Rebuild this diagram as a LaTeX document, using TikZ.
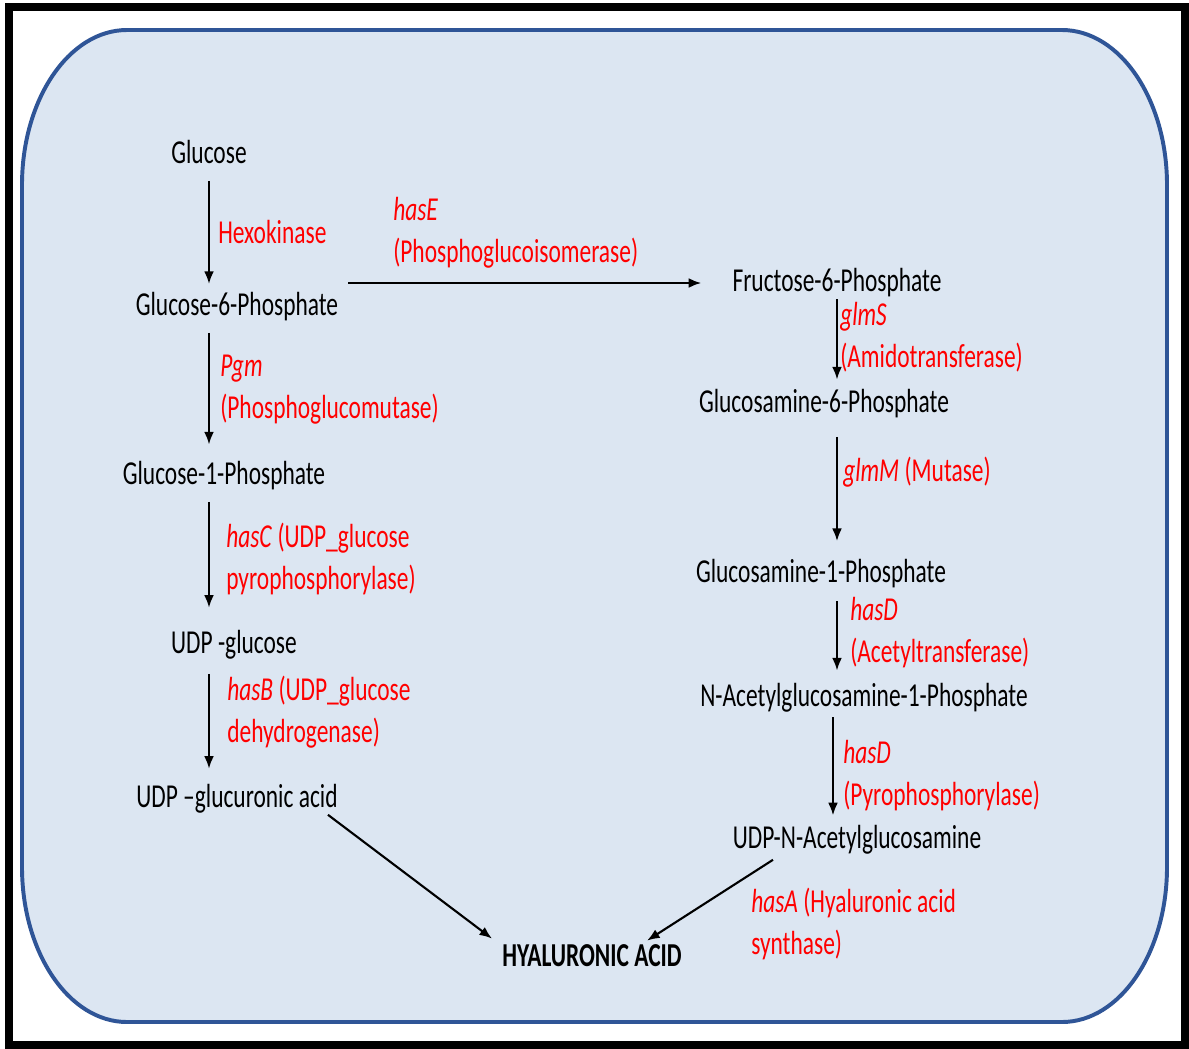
\documentclass[tikz,border=0pt]{standalone}
\usepackage{fontspec}
\setmainfont{Carlito}[FakeStretch=0.7]
\usetikzlibrary{arrows.meta, calc}
\definecolor{hapanel}{RGB}{220, 230, 242}
\definecolor{haedge}{RGB}{47, 85, 151}
\definecolor{hared}{RGB}{255, 0, 0}
\tikzset{
  metab/.style={inner sep=0pt, font=\fontsize{23.8}{29.9}\selectfont},
  enzyme/.style={inner sep=0pt, anchor=west, align=left, text=hared,
                 font=\fontsize{23.8}{29.9}\selectfont},
  arr/.style={-{Latex[length=9pt, width=7pt]}, line width=1.5pt, black},
}

\begin{document}
\begin{tikzpicture}[x=0.025cm, y=-0.025cm]
  \useasboundingbox (0,0) rectangle (1189,1048);
  % frame and panel
  \draw[line width=5.5pt] (9,7) rectangle (1185,1045);
  \draw[haedge, fill=hapanel, line width=2.8pt] (127,30) -- (1062,30)
       arc[start angle=-90, end angle=0, x radius=105, y radius=155] -- (1167,867)
       arc[start angle=0, end angle=90, x radius=105, y radius=155] -- (127,1022)
       arc[start angle=90, end angle=180, x radius=105, y radius=155] -- (22,185)
       arc[start angle=180, end angle=270, x radius=105, y radius=155] -- cycle;

  % glucuronic acid branch
  \node[metab] (glc) at (209,152) {Glucose};
  \node[metab] (g6p) at (237,307) {Glucose-6-Phosphate};
  \node[metab] (g1p) at (224,476) {Glucose-1-Phosphate};
  \node[metab] (udpg) at (234,645) {UDP -glucose};
  \node[metab] (udpga) at (237,799) {UDP –glucuronic acid};

  % glucosamine branch
  \node[metab] (f6p) at (837,283) {Fructose-6-Phosphate};
  \node[metab] (gn6p) at (824,404) {Glucosamine-6-Phosphate};
  \node[metab] (gn1p) at (821,574) {Glucosamine-1-Phosphate};
  \node[metab] (nag1p) at (864,698) {N-Acetylglucosamine-1-Phosphate};
  \node[metab] (udpnag) at (857,840) {UDP-N-Acetylglucosamine};

  \node[metab, font=\fontsize{23.8}{29.9}\selectfont\bfseries] (ha) at (592,956) {HYALURONIC ACID};

  % enzymes
  \node[enzyme] (hexo) at (218,232) {Hexokinase};
  \node[enzyme] (pgm) at (220,390) {\textit{Pgm}\\(Phosphoglucomutase)};
  \node[enzyme] (hasc) at (226,559) {\textit{hasC} (UDP\_glucose\\pyrophosphorylase)};
  \node[enzyme] (hasb) at (227,712) {\textit{hasB} (UDP\_glucose\\dehydrogenase)};
  \node[enzyme] (hase) at (393,233) {\textit{hasE}\\(Phosphoglucoisomerase)};
  \node[enzyme] (glms) at (840,337) {\textit{glmS}\\(Amidotransferase)};
  \node[enzyme] (glmm) at (843,472) {\textit{glmM} (Mutase)};
  \node[enzyme] (hasd) at (850,633) {\textit{hasD}\\(Acetyltransferase)};
  \node[enzyme] (hasdb) at (843,776) {\textit{hasD}\\(Pyrophosphorylase)};
  \node[enzyme] (hasa) at (751,924) {\textit{hasA} (Hyaluronic acid\\synthase)};

  % reactions
  \draw[arr, shorten <=12pt, shorten >=6pt] (glc.south) -- (glc.south |- g6p.north);
  \draw[arr, shorten <=8pt, shorten >=12pt] (g6p.south -| glc) -- (g1p.north -| glc);
  \draw[arr, shorten <=8pt, shorten >=16pt] (g1p.south -| glc) -- (udpg.north -| glc);
  \draw[arr, shorten <=10pt, shorten >=11pt] (udpg.south -| glc) -- (udpga.north -| glc);
  \draw[arr, shorten <=7pt, shorten >=22pt] (g6p.east |- f6p) -- (f6p.west);
  \draw[arr, shorten <=1pt, shorten >=7pt] (f6p.south) -- (f6p.south |- gn6p.north);
  \draw[arr, shorten <=13pt, shorten >=13pt] (gn6p.south -| f6p) -- (gn1p.north -| f6p);
  \draw[arr, shorten <=9pt, shorten >=9pt] (gn1p.south -| f6p) -- (nag1p.north -| f6p);
  \draw[arr, shorten <=3pt, shorten >=7pt] ($(nag1p.south -| f6p)+(-4,0)$) -- ($(udpnag.north -| f6p)+(-4,0)$);
  \draw[arr] ($(udpga.south east)+(-10,1)$) -- ($(ha.north west)+(-10,-6)$);
  \draw[arr] ($(udpnag.south)+(-84,5)$) -- ($(ha.north)+(55,-4)$);
\end{tikzpicture}
\end{document}
